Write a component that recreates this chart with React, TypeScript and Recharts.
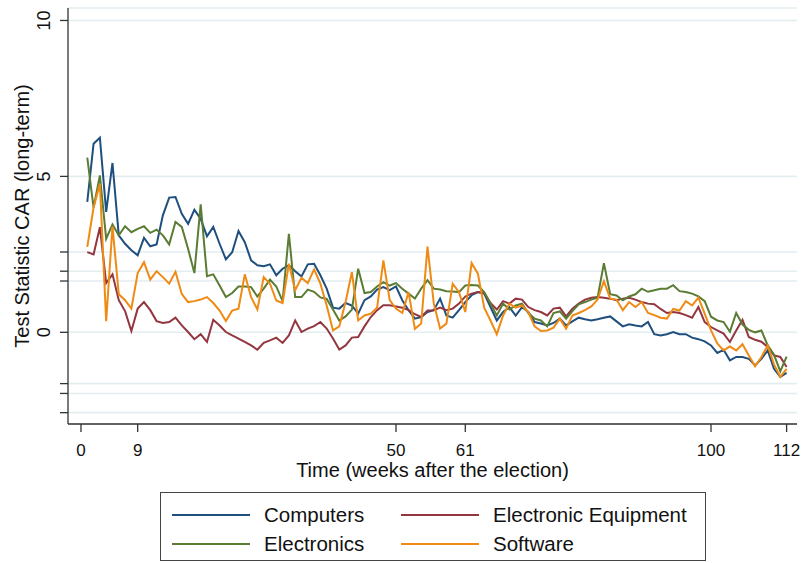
import { LineChart, Line, XAxis, YAxis, CartesianGrid, Label } from 'recharts';

// Weekly test statistics of the long-term CAR, weeks 1..112 after the election
const computers = [
  4.18, 6.05, 6.24, 3.86, 5.43, 3.11, 2.84, 2.63, 2.47, 3.03,
  2.76, 2.82, 3.75, 4.32, 4.34, 3.8, 3.48, 3.93, 3.64, 3.08,
  3.38, 2.84, 2.34, 2.57, 3.25, 2.89, 2.31, 2.15, 2.12, 2.18,
  1.83, 2.04, 2.15, 1.96, 1.79, 2.18, 2.2, 1.83, 1.4, 0.79,
  0.76, 0.94, 0.86, 0.6, 1.03, 1.15, 1.37, 1.45, 1.35, 1.47,
  1.03, 0.71, 0.44, 0.49, 0.65, 0.71, 1.08, 0.54, 0.47, 0.71,
  0.97, 1.19, 1.29, 1.24, 0.81, 0.38, 0.65, 0.81, 0.54, 0.81,
  0.65, 0.33, 0.28, 0.22, 0.3, 0.44, 0.22, 0.35, 0.47, 0.42,
  0.38, 0.42, 0.47, 0.51, 0.35, 0.19, 0.26, 0.22, 0.19, 0.33,
  -0.06, -0.1, -0.06, 0.01, -0.06, -0.06, -0.17, -0.22, -0.29, -0.42,
  -0.66, -0.56, -0.9, -0.79, -0.79, -0.85, -1.06, -0.85, -0.58, -1.17,
  -1.43, -1.3,
];

const electronicEquipment = [
  2.57, 2.5, 3.37, 1.58, 1.86, 1.03, 0.68, 0.04, 0.76, 0.97,
  0.71, 0.36, 0.3, 0.33, 0.47, 0.22, 0.01, -0.22, -0.06, -0.31,
  0.4, 0.22, 0.01, -0.1, -0.2, -0.31, -0.42, -0.56, -0.34, -0.26,
  -0.17, -0.34, -0.1, 0.38, 0.01, 0.12, 0.2, 0.33, 0.12, -0.2,
  -0.55, -0.42, -0.17, -0.15, 0.19, 0.49, 0.71, 0.87, 0.87, 0.83,
  0.79, 0.71, 0.58, 0.49, 0.7, 0.71, 0.79, 0.71, 0.76, 0.92,
  1.15, 1.24, 1.29, 1.26, 0.94, 0.73, 1.0, 0.92, 1.08, 1.05,
  0.81, 0.71, 0.65, 0.54, 0.76, 0.79, 0.51, 0.76, 0.92, 1.05,
  1.11, 1.13, 1.11, 1.08, 1.03, 1.08, 1.11, 1.05, 0.97, 0.92,
  0.9, 0.75, 0.62, 0.65, 0.62, 0.55, 0.47, 0.81, 0.33, 0.17,
  0.06, -0.04, -0.31, 0.06, 0.4, -0.15, -0.24, -0.3, -0.47, -0.74,
  -0.79, -1.11,
];

const electronics = [
  5.6, 4.0, 5.03, 3.0, 3.46, 3.11, 3.4, 3.21, 3.32, 3.4,
  3.19, 3.29, 3.11, 2.82, 3.54, 3.38, 2.68, 1.9, 4.1, 1.8,
  1.86, 1.5, 1.13, 1.26, 1.47, 1.47, 1.45, 1.15, 1.4, 1.69,
  1.47, 1.0, 3.16, 1.13, 1.13, 1.37, 1.3, 1.12, 1.07, 0.73,
  0.38, 0.51, 0.73, 2.04, 1.26, 1.29, 1.47, 1.61, 1.5, 1.58,
  1.4, 1.24, 1.08, 1.4, 1.67, 1.4, 1.37, 1.32, 1.31, 1.29,
  1.5, 1.52, 1.5, 1.29, 0.92, 0.54, 0.92, 0.73, 0.86, 0.92,
  0.62, 0.44, 0.38, 0.19, 0.62, 0.67, 0.44, 0.68, 0.9, 0.97,
  1.05, 1.11, 2.22, 1.22, 1.18, 1.03, 1.15, 1.22, 1.4, 1.3,
  1.35, 1.4, 1.4, 1.51, 1.32, 1.29, 1.24, 1.15, 1.0, 0.5,
  0.38, 0.33, 0.02, 0.62, 0.25, 0.08, 0.0, 0.06, -0.42, -0.72,
  -1.25, -0.78,
];

const software = [
  2.74, 4.0, 4.76, 0.36, 3.4, 1.22, 1.03, 0.76, 1.9, 2.25,
  1.69, 1.96, 1.77, 1.56, 1.94, 1.23, 0.97, 1.0, 1.05, 1.13,
  0.94, 0.7, 0.36, 0.7, 0.76, 1.86, 1.13, 0.73, 1.77, 1.56,
  1.02, 0.94, 2.2, 1.35, 1.75, 1.58, 2.02, 1.56, 0.86, 0.06,
  0.19, 0.97, 1.93, 0.38, 0.54, 0.6, 0.79, 2.31, 1.03, 0.76,
  0.62, 1.29, 0.11, 0.28, 2.75, 0.92, 0.12, 0.28, 1.56, 1.29,
  0.65, 2.22, 1.88, 0.79, 0.38, -0.06, 0.54, 0.92, 0.79, 0.86,
  0.65, 0.19, 0.04, 0.06, 0.15, 0.44, 0.12, 0.54, 0.62, 0.71,
  0.83, 1.05, 1.64, 1.08, 1.05, 0.71, 0.97, 0.81, 0.97, 0.62,
  0.55, 0.47, 0.44, 0.75, 0.7, 1.0, 0.86, 1.11, 0.6, 0.06,
  -0.36, -0.58, -0.45, -0.58, -0.38, -0.74, -1.09, -0.79, -0.42, -1.03,
  -1.43, -1.17,
];

const weeks = computers.map((_, i) => i + 1);

const xTicks = [0, 9, 50, 61, 100, 112];
// 0, 5, 10 plus the two-sided 10%, 5% and 1% critical values
const yTicks = [-2.576, -1.96, -1.645, 0, 1.645, 1.96, 2.576, 5, 10];
const yLabelled = [0, 5, 10];

const series = [
  { key: 'computers', name: 'Computers', color: '#1f4f7e' },
  { key: 'electronicEquipment', name: 'Electronic Equipment', color: '#93363f' },
  { key: 'electronics', name: 'Electronics', color: '#5a7c33' },
  { key: 'software', name: 'Software', color: '#ef8a14' },
];

const rows = weeks.map((week, i) => ({
  week,
  computers: computers[i],
  electronicEquipment: electronicEquipment[i],
  electronics: electronics[i],
  software: software[i],
}));

const FONT = 'Arial, "Liberation Sans", Helvetica, sans-serif';
const AXIS = '#333';

function YTick(props: any) {
  const { x, y, payload } = props;
  if (!yLabelled.includes(payload.value)) return <g />;
  const bx = x - 8;
  return (
    <text x={bx} y={y} transform={`rotate(-90 ${bx} ${y})`} textAnchor="middle"
      fontSize={18} fontFamily={FONT} fill="#111">
      {payload.value}
    </text>
  );
}

function XTick(props: any) {
  const { x, y, payload } = props;
  return (
    <text x={x} y={y + 22} textAnchor="middle" fontSize={17} fontFamily={FONT} fill="#111">
      {payload.value}
    </text>
  );
}

// legend layout: two columns, Stata-style order
const legendSlots = [
  { left: 11, top: 22 },
  { left: 240, top: 22 },
  { left: 11, top: 51 },
  { left: 240, top: 51 },
];

function LegendBox() {
  return (
    <div style={{
      position: 'absolute', left: 160, top: 492, width: 544, height: 67,
      border: '1px solid #444', background: '#fff', fontFamily: FONT,
    }}>
      {series.map((s, i) => (
        <div key={s.key} style={{ position: 'absolute', left: legendSlots[i].left, top: legendSlots[i].top - 12, height: 24, display: 'flex', alignItems: 'center' }}>
          <div style={{ width: 78, height: 2, background: s.color }} />
          <span style={{ marginLeft: 14, fontSize: 20.5, color: '#111', whiteSpace: 'nowrap' }}>{s.name}</span>
        </div>
      ))}
    </div>
  );
}

export default function App() {
  return (
    <div style={{ position: 'absolute', left: 0, top: 0, width: 803, height: 563, background: '#fff' }}>
      <LineChart width={803} height={563} data={rows} margin={{ top: 8, right: 6, left: 0, bottom: 79 }}>
        <CartesianGrid vertical={false} stroke="#e3edf0" strokeWidth={1.6} />
        <XAxis dataKey="week" type="number" domain={[-2.06, 113.65]} ticks={xTicks} interval={0}
          allowDataOverflow height={60} tickSize={8} tick={<XTick />}
          axisLine={{ stroke: AXIS, strokeWidth: 1.3 }} tickLine={{ stroke: AXIS, strokeWidth: 1.3 }}>
          <Label value="Time (weeks after the election)" position="insideBottom" offset={7}
            style={{ fontSize: 20, fontFamily: FONT, fill: '#111' }} />
        </XAxis>
        <YAxis type="number" domain={[-2.94, 10.4]} ticks={yTicks} interval={0} allowDataOverflow
          width={68} tickSize={8} tick={<YTick />}
          axisLine={{ stroke: AXIS, strokeWidth: 1.3 }} tickLine={{ stroke: AXIS, strokeWidth: 1.3 }}>
          <Label value="Test Statistic CAR (long-term)" angle={-90} position="insideLeft" offset={22}
            style={{ fontSize: 20, fontFamily: FONT, fill: '#111', textAnchor: 'middle' }} />
        </YAxis>
        {series.map((s) => (
          <Line key={s.key} type="linear" dataKey={s.key} name={s.name} stroke={s.color}
            strokeWidth={2} dot={false} activeDot={false} isAnimationActive={false} />
        ))}
      </LineChart>
      <LegendBox />
    </div>
  );
}
